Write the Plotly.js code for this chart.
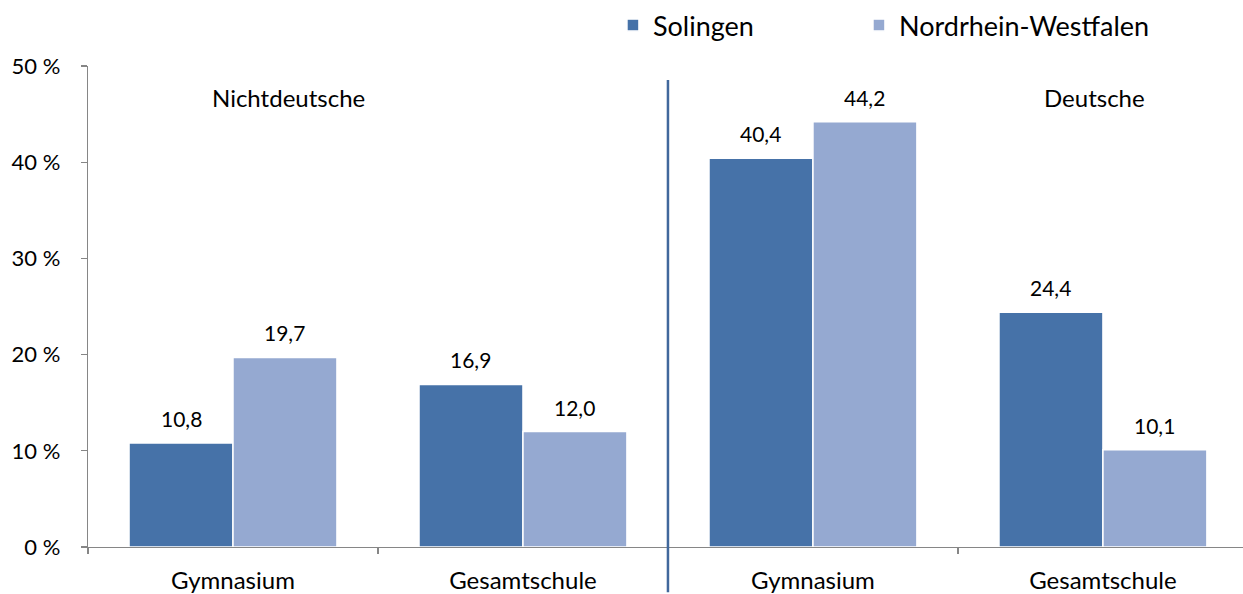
<!DOCTYPE html>
<html><head><meta charset="utf-8">
<script src="https://cdn.plot.ly/plotly-3.0.1.min.js"></script>
<style>html,body{margin:0;padding:0;background:#fff;overflow:hidden}</style>
</head><body><div id="chart" style="width:1243px;height:594px"></div>
<script>
const categories = ["Gymnasium", "Gesamtschule", "Gymnasium", "Gesamtschule"];
const groupTitles = ["Nichtdeutsche", "Deutsche"];
const solingen = [10.8, 16.9, 40.4, 24.4];
const nrw = [19.7, 12.0, 44.2, 10.1];
const yTicks = [0, 10, 20, 30, 40, 50];
const yTickText = yTicks.map(v => v + " %");

const FONT = "Lato, 'Open Sans', sans-serif";
const xs = categories.map((_, i) => i);
const bargap = 0.283;
const half = (1 - bargap) / 4;

const traces = [
  {type: "bar", name: "Solingen", x: xs, y: solingen, legend: "legend",
   marker: {color: "#4672A8", line: {color: "#ffffff", width: 1.5}}, hoverinfo: "skip"},
  {type: "bar", name: "Nordrhein-Westfalen", x: xs, y: nrw, legend: "legend2",
   marker: {color: "#95A9D1", line: {color: "#ffffff", width: 1.5}}, hoverinfo: "skip"}
];

const fmt = v => v.toFixed(1).replace(".", ",");
const labelFont = {family: FONT, size: 21, color: "#000"};
const annotations = [];
solingen.forEach((v, i) => annotations.push({x: i - half, y: v, xref: "x", yref: "y", text: fmt(v),
  showarrow: false, yanchor: "bottom", yshift: 10, font: labelFont}));
nrw.forEach((v, i) => annotations.push({x: i + half, y: v, xref: "x", yref: "y", text: fmt(v),
  showarrow: false, yanchor: "bottom", yshift: 10, font: labelFont}));
const titleFont = {family: FONT, size: 24, color: "#000"};
annotations.push({x: 0.19, y: 0.934, xref: "x", yref: "paper", text: groupTitles[0], showarrow: false,
  yanchor: "middle", font: titleFont});
annotations.push({x: 2.97, y: 0.934, xref: "x", yref: "paper", text: groupTitles[1], showarrow: false,
  yanchor: "middle", font: titleFont});

const legendFont = {family: FONT, size: 27, color: "#000"};
const layout = {
  width: 1243, height: 594,
  margin: {l: 88, r: 0, t: 66, b: 47},
  paper_bgcolor: "#fff", plot_bgcolor: "#fff",
  font: {family: FONT, size: 20, color: "#000"},
  barmode: "group", bargap: bargap, bargroupgap: 0,
  showlegend: true,
  legend: {orientation: "h", x: 0.4545, y: 1.135, xanchor: "left", yanchor: "top", font: legendFont},
  legend2: {orientation: "h", x: 0.6675, y: 1.135, xanchor: "left", yanchor: "top", font: legendFont},
  xaxis: {range: [-0.5, 3.483], tickvals: xs, ticktext: categories, ticks: "", showgrid: false,
    zeroline: false, showline: true, linecolor: "#868686", linewidth: 1.3,
    tickfont: {family: FONT, size: 24}, ticklabelstandoff: 12,
    minor: {tickmode: "linear", tick0: -0.5, dtick: 1, ticks: "outside", ticklen: 6, tickcolor: "#868686", tickwidth: 1.3, showgrid: false}},
  yaxis: {range: [0, 50], tickmode: "array", tickvals: yTicks, ticktext: yTickText, ticks: "outside", ticklen: 6,
    tickcolor: "#868686", tickwidth: 1.3, showgrid: false, zeroline: false, showline: true,
    linecolor: "#868686", linewidth: 1.3, tickfont: {family: FONT, size: 22}, ticklabelstandoff: 16},
  shapes: [{type: "line", xref: "x", yref: "paper", x0: 1.5, x1: 1.5, y0: -0.094, y1: 0.971,
    line: {color: "#41689C", width: 2.5}}],
  annotations: annotations
};
Plotly.newPlot("chart", traces, layout, {staticPlot: true});
</script></body></html>
